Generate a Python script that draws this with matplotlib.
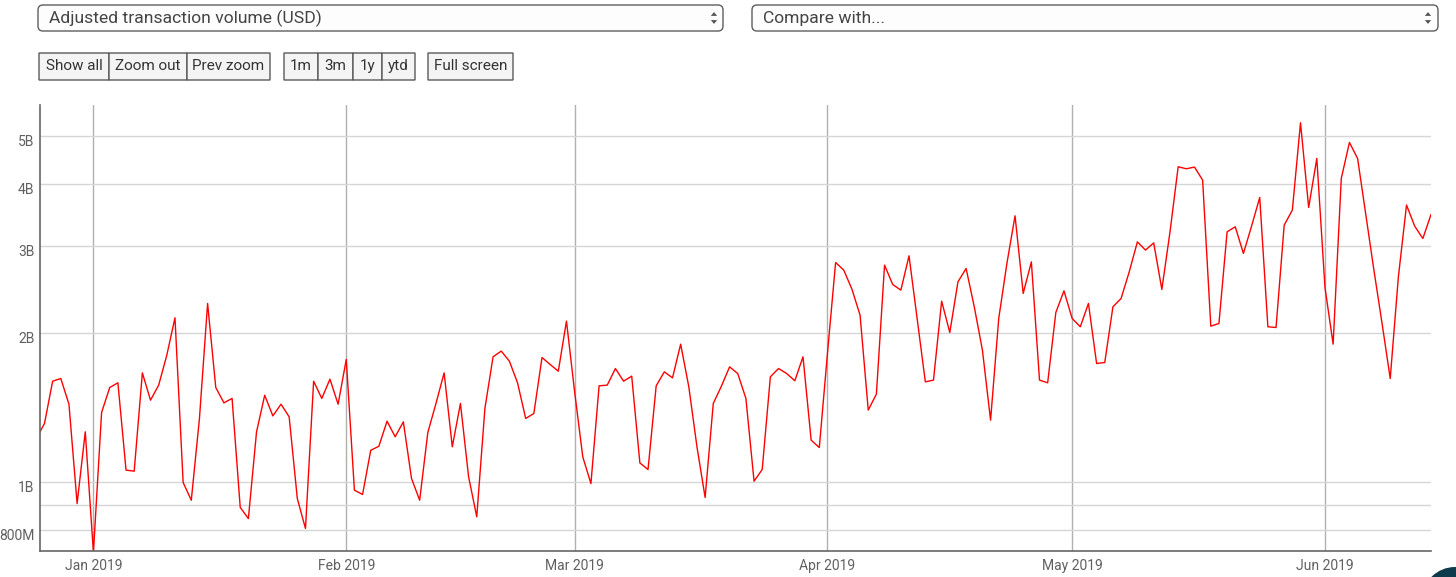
import pandas as pd
import matplotlib
matplotlib.use('Agg')
import matplotlib.pyplot as plt
import matplotlib.dates as mdates
from matplotlib.ticker import NullLocator, NullFormatter
from matplotlib.patches import FancyBboxPatch, Circle, Polygon
from matplotlib.transforms import ScaledTranslation

plt.rcParams['font.family'] = ['Roboto', 'DejaVu Sans']

# adjusted transaction volume per day, in billions USD
dec_2018 = [1.223, 1.312, 1.597, 1.617, 1.435, 0.904, 1.262]
jan_2019 = [0.720, 1.380, 1.551, 1.585, 1.056, 1.051, 1.660, 1.462, 1.568, 1.803,
            2.145, 0.997, 0.918, 1.343, 2.293, 1.551, 1.444, 1.474, 0.888, 0.843,
            1.262, 1.496, 1.359, 1.435, 1.353, 0.925, 0.805, 1.597, 1.474, 1.612,
            1.435]
feb_2019 = [1.767, 0.962, 0.943, 1.158, 1.180, 1.326, 1.233, 1.322, 1.016, 0.918,
            1.258, 1.440, 1.660, 1.177, 1.440, 1.024, 0.850, 1.407, 1.789, 1.837,
            1.753, 1.585, 1.343, 1.374, 1.783, 1.726, 1.673, 2.112]
mar_2019 = [1.520, 1.123, 0.992, 1.563, 1.568, 1.694, 1.597, 1.635, 1.092, 1.059,
            1.563, 1.668, 1.622, 1.897, 1.556, 1.177, 0.930, 1.440, 1.561, 1.707,
            1.655, 1.474, 1.003, 1.059, 1.630, 1.694, 1.655, 1.600, 1.789, 1.214,
            1.173]
apr_2019 = [1.817, 2.774, 2.677, 2.450, 2.171, 1.396, 1.504, 2.740, 2.504, 2.439,
            2.861, 2.138, 1.592, 1.605, 2.317, 2.003, 2.535, 2.698, 2.257, 1.845,
            1.332, 2.138, 2.761, 3.446, 2.402, 2.782, 1.605, 1.585, 2.198, 2.431]
may_2019 = [2.138, 2.057, 2.293, 1.734, 1.742, 2.257, 2.346, 2.656, 3.053, 2.938,
            3.039, 2.447, 3.199, 4.329, 4.289, 4.323, 4.069, 2.063, 2.089, 3.199,
            3.275, 2.893, 3.285, 3.753, 2.057, 2.050, 3.300, 3.539, 5.313, 3.583,
            4.500]
jun_2019 = [2.470, 1.897, 4.101, 4.848, 4.500, 3.467, 2.677, 2.089, 1.617, 2.595,
            3.623, 3.285, 3.101, 3.467]

y_ticks = [0.8, 0.9, 1, 2, 3, 4, 5]
y_labels = ['800M', '', '1B', '2B', '3B', '4B', '5B']

volume = dec_2018 + jan_2019 + feb_2019 + mar_2019 + apr_2019 + may_2019 + jun_2019
dates = pd.date_range('2018-12-25', periods=len(volume), freq='D')

W, H = 1456, 577
fig = plt.figure(figsize=(W / 100, H / 100), dpi=100)
inch = fig.dpi_scale_trans


def px(x, y):
    # pixel position from the top-left corner -> inches from bottom-left
    return x / 100, (H - y) / 100


def rect(x0, y0, x1, y1, fc, ec, rounding=0.0):
    (a, b), (c, d) = px(x0, y1), px(x1, y0)
    p = FancyBboxPatch((a, b), c - a, d - b,
                       boxstyle='round,pad=0,rounding_size=%f' % rounding,
                       transform=inch, fc=fc, ec=ec, lw=1.0)
    fig.patches.append(p)


def updown(x, y):
    for dy, up in ((-4, True), (4, False)):
        cx, cy = px(x, y + dy)
        w, h = 0.032, 0.038
        if up:
            pts = [(cx - w, cy - h / 2), (cx + w, cy - h / 2), (cx, cy + h / 2)]
        else:
            pts = [(cx - w, cy + h / 2), (cx + w, cy + h / 2), (cx, cy - h / 2)]
        fig.patches.append(Polygon(pts, closed=True, transform=inch,
                                   fc='#555555', ec='none'))


# dropdowns on top
rect(38, 5, 723, 31, '#fdfdfd', '#5e5e5e', rounding=0.05)
fig.text(*px(49, 18), 'Adjusted transaction volume (USD)', transform=inch,
         va='center', ha='left', fontsize=12.6, color='#444444')
updown(714, 18)
rect(752, 5, 1438, 31, '#fdfdfd', '#5e5e5e', rounding=0.05)
fig.text(*px(763, 18), 'Compare with...', transform=inch,
         va='center', ha='left', fontsize=12.6, color='#444444')
updown(1428, 18)

# button bar
buttons = [('Show all', 39, 109), ('Zoom out', 109, 187), ('Prev zoom', 187, 270),
           ('1m', 284, 318), ('3m', 318, 353), ('1y', 353, 382), ('ytd', 382, 415),
           ('Full screen', 428, 513)]
for label, x0, x1 in buttons:
    rect(x0, 53, x1, 80, '#f4f4f4', '#5a5a5a')
    fig.text(*px((x0 + x1) / 2, 66.5), label, transform=inch,
             va='center', ha='center', fontsize=11, color='#333333')

# chart
ax = fig.add_axes([40 / W, 1 - 550.7 / H, (1431 - 40) / W, (550.7 - 105) / H])
ax.plot(dates, volume, color='#ff0000', lw=1.0)
ax.set_yscale('log')
ax.set_ylim(0.726, 5.77)
ax.set_xlim(pd.Timestamp('2018-12-25 10:48'), pd.Timestamp('2019-06-14'))

ax.set_yticks(y_ticks, y_labels)
ax.yaxis.set_minor_locator(NullLocator())
ax.yaxis.set_minor_formatter(NullFormatter())
ax.xaxis.set_major_locator(mdates.MonthLocator())
ax.xaxis.set_major_formatter(mdates.DateFormatter('%b %Y'))

ax.grid(axis='y', color='#d6d6d6', lw=1.0)
ax.grid(axis='x', color='#b0b0b0', lw=1.0)
ax.set_axisbelow(True)

for s in ('top', 'right'):
    ax.spines[s].set_visible(False)
for s in ('left', 'bottom'):
    ax.spines[s].set_color('#666666')
    ax.spines[s].set_linewidth(1.2)

ax.tick_params(length=0, labelsize=10, labelcolor='#606060')
ax.tick_params(axis='y', pad=4)
ax.tick_params(axis='x', pad=6)
for lab in ax.get_yticklabels():
    lab.set_transform(lab.get_transform() + ScaledTranslation(0, -0.05, inch))

# chat bubble peeking in at the bottom-right corner
fig.patches.append(Circle(px(1455, 600), 0.33, transform=inch,
                          fc='#0e3b4b', ec='none'))

fig.savefig('out.png', dpi=100)
